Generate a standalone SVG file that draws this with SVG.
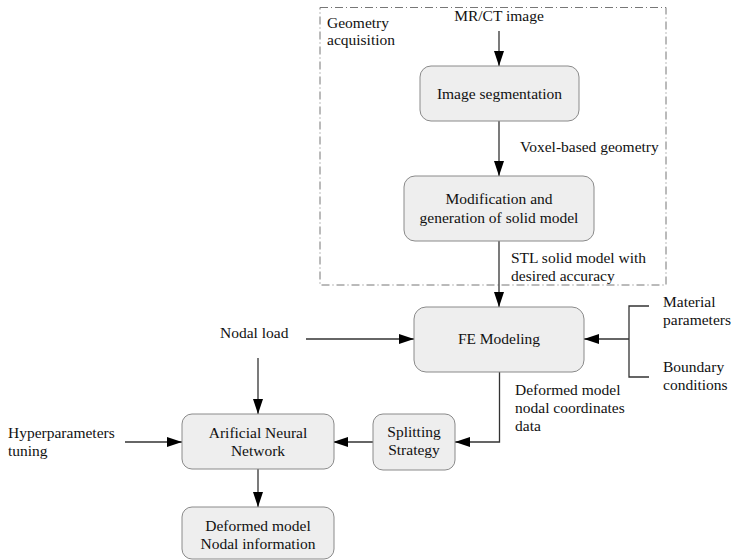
<svg xmlns="http://www.w3.org/2000/svg" width="732" height="560" viewBox="0 0 732 560">
<style>
  text { font-family: "Liberation Serif", "Times New Roman", serif; font-size: 15.5px; fill: #111; }
  .c { text-anchor: middle; }
  .box { fill: #eeeeee; stroke: #8a8a8a; stroke-width: 1; }
  .conn { fill: none; stroke: #333; stroke-width: 1.3; }
  .group { fill: none; stroke: #777; stroke-width: 1; stroke-dasharray: 8 3 1 3; }
</style>
<defs>
  <marker id="arr" markerUnits="userSpaceOnUse" markerWidth="15" markerHeight="10" refX="15" refY="5" orient="auto">
    <path d="M0,0 L15,5 L0,10 Z" fill="#000"/>
  </marker>
</defs>
<rect id="geometry-group" class="group" x="320" y="7.5" width="346" height="277.5"/>
<text x="327" y="28">Geometry</text>
<text x="327" y="45">acquisition</text>

<g id="connectors">
  <line class="conn" x1="499" y1="31" x2="499" y2="66" marker-end="url(#arr)"/>
  <line class="conn" x1="499" y1="121" x2="499" y2="176" marker-end="url(#arr)"/>
  <line class="conn" x1="499" y1="241" x2="499" y2="307" marker-end="url(#arr)"/>
  <line class="conn" x1="306" y1="339" x2="414" y2="339" marker-end="url(#arr)"/>
  <line class="conn" x1="258" y1="358" x2="258" y2="414" marker-end="url(#arr)"/>
  <path class="conn" d="M649,306 H629 V377 H649"/>
  <line class="conn" x1="629" y1="339" x2="584" y2="339" marker-end="url(#arr)"/>
  <path class="conn" d="M499.5,372 V442 H455" marker-end="url(#arr)"/>
  <line class="conn" x1="373" y1="442" x2="333" y2="442" marker-end="url(#arr)"/>
  <line class="conn" x1="125" y1="442" x2="182" y2="442" marker-end="url(#arr)"/>
  <line class="conn" x1="258" y1="469" x2="258" y2="507" marker-end="url(#arr)"/>
</g>

<g id="n-mrct"><text class="c" x="499" y="21">MR/CT image</text></g>
<g id="n-seg">
  <rect class="box" x="420" y="66" width="159" height="55" rx="11"/>
  <text class="c" x="499.5" y="99">Image segmentation</text>
</g>
<g id="l-voxel"><text x="520" y="152">Voxel-based geometry</text></g>
<g id="n-mod">
  <rect class="box" x="404" y="176" width="190" height="65" rx="11"/>
  <text class="c" x="499" y="204">Modification and</text>
  <text class="c" x="499" y="223">generation of solid model</text>
</g>
<g id="l-stl">
  <text x="511" y="263">STL solid model with</text>
  <text x="511" y="281">desired accuracy</text>
</g>
<g id="n-fe">
  <rect class="box" x="414" y="307" width="170" height="65" rx="12"/>
  <text class="c" x="499" y="344">FE Modeling</text>
</g>
<g id="n-material">
  <text x="663" y="307">Material</text>
  <text x="663" y="325">parameters</text>
</g>
<g id="n-boundary">
  <text x="663" y="372">Boundary</text>
  <text x="663" y="390">conditions</text>
</g>
<g id="n-nodal"><text x="220" y="338">Nodal load</text></g>
<g id="l-deformed">
  <text x="515" y="395">Deformed model</text>
  <text x="515" y="413">nodal coordinates</text>
  <text x="515" y="431">data</text>
</g>
<g id="n-hyper">
  <text x="8" y="438">Hyperparameters</text>
  <text x="8" y="456">tuning</text>
</g>
<g id="n-ann">
  <rect class="box" x="182" y="414" width="152" height="55" rx="10"/>
  <text class="c" x="258" y="438">Arificial Neural</text>
  <text class="c" x="258" y="456">Network</text>
</g>
<g id="n-split">
  <rect class="box" x="373" y="414" width="82" height="56" rx="10"/>
  <text class="c" x="414" y="437">Splitting</text>
  <text class="c" x="414" y="455">Strategy</text>
</g>
<g id="n-out">
  <rect class="box" x="182" y="507" width="152" height="52" rx="10"/>
  <text class="c" x="258" y="531">Deformed model</text>
  <text class="c" x="258" y="549">Nodal information</text>
</g>
</svg>
